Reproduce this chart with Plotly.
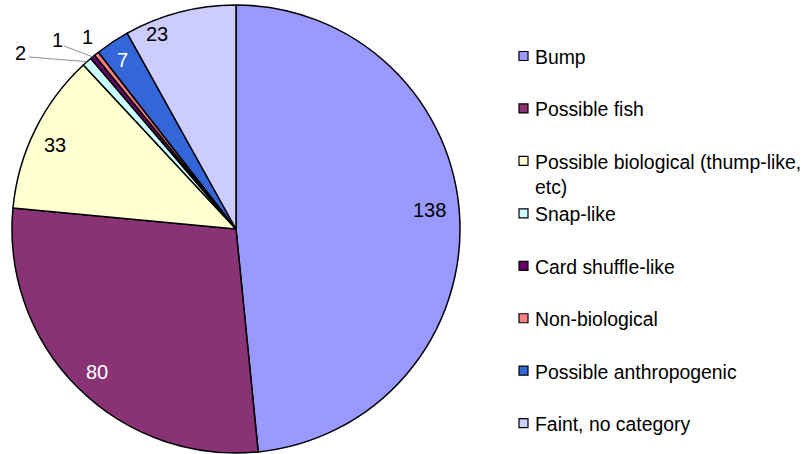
import math
import plotly.graph_objects as go

# Event counts by category
categories = [
    "Bump",
    "Possible fish",
    "Possible biological (thump-like, etc)",
    "Snap-like",
    "Card shuffle-like",
    "Non-biological",
    "Possible anthropogenic",
    "Faint, no category",
]
counts = [138, 80, 33, 2, 1, 1, 7, 23]
legend_labels = [
    "Bump",
    "Possible fish",
    "Possible biological (thump-like,<br>etc)",
    "Snap-like",
    "Card shuffle-like",
    "Non-biological",
    "Possible anthropogenic",
    "Faint, no category",
]
colors = ["#9999FF", "#893376", "#FFFFD2", "#CCFFFF", "#660066", "#FF8080", "#3366D8", "#CCCCFF"]

W, H = 803, 454
CX, CY, R = 236, 229, 224  # pie centre / radius in pixels

FONT = "Arial, Liberation Sans, sans-serif"


def px(x):
    return x / W


def py(y):
    return 1 - y / H


fig = go.Figure(
    go.Pie(
        labels=categories,
        values=counts,
        sort=False,
        direction="clockwise",
        rotation=0,
        marker=dict(colors=colors, line=dict(color="black", width=1.5)),
        textinfo="none",
        hoverinfo="label+value",
        showlegend=False,
        domain=dict(x=[px(CX - R), px(CX + R)], y=[py(CY + R), py(CY - R)]),
    )
)

# Slice mid-angles (degrees clockwise from 12 o'clock)
total = sum(counts)
mids = []
acc = 0
for v in counts:
    mids.append((acc + v / 2) / total * 360)
    acc += v


def polar(angle_deg, frac):
    a = math.radians(angle_deg)
    return CX + frac * R * math.sin(a), CY - frac * R * math.cos(a)


annotations = []
shapes = []

# Inside value labels: (angle offset, radius fraction, text colour)
inside = {
    0: (-2.8, 0.87, "black"),
    1: (-0.8, 0.89, "white"),
    2: (-1.2, 0.89, "black"),
    6: (-0.5, 0.91, "white"),
    7: (-7.5, 0.94, "black"),
}
for i, (da, fr, col) in inside.items():
    x, y = polar(mids[i] + da, fr)
    annotations.append(dict(
        x=px(x), y=py(y), xref="paper", yref="paper", text=str(counts[i]),
        showarrow=False, font=dict(family=FONT, size=20, color=col),
        xanchor="center", yanchor="middle",
    ))

# Outside labels for the thin slices, with leader lines
outside = {
    3: ((20, 53), (29, 57), True),
    4: ((57, 40), (64, 46), True),
    5: ((87, 37), None, False),
}
for i, (lab, start, line) in outside.items():
    annotations.append(dict(
        x=px(lab[0]), y=py(lab[1]), xref="paper", yref="paper", text=str(counts[i]),
        showarrow=False, font=dict(family=FONT, size=20, color="black"),
        xanchor="center", yanchor="middle",
    ))
    if line:
        ex, ey = polar(mids[i], 1.0)
        shapes.append(dict(
            type="line", xref="paper", yref="paper",
            x0=px(start[0]), y0=py(start[1]), x1=px(ex), y1=py(ey),
            line=dict(color="#909090", width=1),
        ))

# Legend
LX_BOX, LX_TEXT = 519, 533
Y0, DY = 56, 52.45
for i, (lab, col) in enumerate(zip(legend_labels, colors)):
    yc = Y0 + DY * i
    shapes.append(dict(
        type="rect", xref="paper", yref="paper",
        x0=px(LX_BOX), x1=px(LX_BOX + 9), y0=py(yc - 4.5), y1=py(yc + 4.5),
        fillcolor=col, line=dict(color="black", width=1.2),
    ))
    annotations.append(dict(
        x=px(LX_TEXT), y=py(yc - 12), xref="paper", yref="paper", text=lab,
        showarrow=False, font=dict(family=FONT, size=19.4, color="black"),
        xanchor="left", yanchor="top", align="left",
    ))

fig.update_layout(
    width=W, height=H,
    margin=dict(l=0, r=0, t=0, b=0),
    paper_bgcolor="white",
    plot_bgcolor="white",
    annotations=annotations,
    shapes=shapes,
)

fig.write_html("out.html")
